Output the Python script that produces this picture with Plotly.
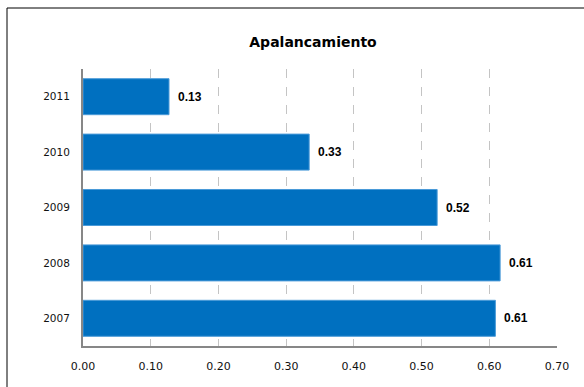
import plotly.graph_objects as go

years = ["2007", "2008", "2009", "2010", "2011"]
values = [0.609, 0.616, 0.523, 0.334, 0.127]
labels = ["0.61", "0.61", "0.52", "0.33", "0.13"]
x_ticks = [0.0, 0.1, 0.2, 0.3, 0.4, 0.5, 0.6, 0.7]
x_tick_labels = ["0.00", "0.10", "0.20", "0.30", "0.40", "0.50", "0.60", "0.70"]

fig = go.Figure()
fig.add_trace(go.Bar(
    y=years, x=values, orientation="h",
    marker=dict(color="#0070C0", line=dict(color="#4A9AD8", width=1)),
    hoverinfo="skip",
))

# value labels (category index positions on the category axis)
for i, (v, t) in enumerate(zip(values, labels)):
    fig.add_annotation(
        x=v, y=i, xref="x", yref="y", text="<b>" + t + "</b>",
        showarrow=False, xanchor="left", yanchor="middle", xshift=7,
        font=dict(family="Liberation Sans", size=12, color="#000000"),
    )

# outer chart border
fig.add_shape(type="rect", xref="paper", yref="paper",
              x0=(7 - 83) / 474, x1=1.2, y0=-0.3, y1=(346 - 8) / 277,
              line=dict(color="#000000", width=1), fillcolor="rgba(0,0,0,0)",
              layer="below")

fig.update_layout(
    width=584, height=387,
    margin=dict(l=83, r=27, t=69, b=41),
    paper_bgcolor="white", plot_bgcolor="white",
    showlegend=False, bargap=0.35,
    title=dict(text="<b>Apalancamiento</b>", x=313 / 584, xref="container",
               xanchor="center", y=1 - 42 / 387, yref="container", yanchor="middle",
               font=dict(family="DejaVu Sans", size=14, color="#000000")),
    xaxis=dict(range=[0, 0.7], tickvals=x_ticks, ticktext=x_tick_labels,
               showgrid=True, gridcolor="#C4C4C4", griddash="dash", gridwidth=1,
               showline=True, linecolor="#878787", linewidth=2, zeroline=False,
               ticks="outside", ticklen=9, tickcolor="rgba(0,0,0,0)",
               tickfont=dict(family="DejaVu Sans", size=11, color="#111111"),
               fixedrange=True),
    yaxis=dict(type="category", categoryorder="array", categoryarray=years,
               range=[-0.5, 4.5],
               showgrid=False, showline=True, linecolor="#878787", linewidth=2,
               zeroline=False, ticks="outside", ticklen=9, tickcolor="rgba(0,0,0,0)",
               tickfont=dict(family="DejaVu Sans", size=10.5, color="#111111"),
               fixedrange=True),
)

fig.write_html("out.html")
